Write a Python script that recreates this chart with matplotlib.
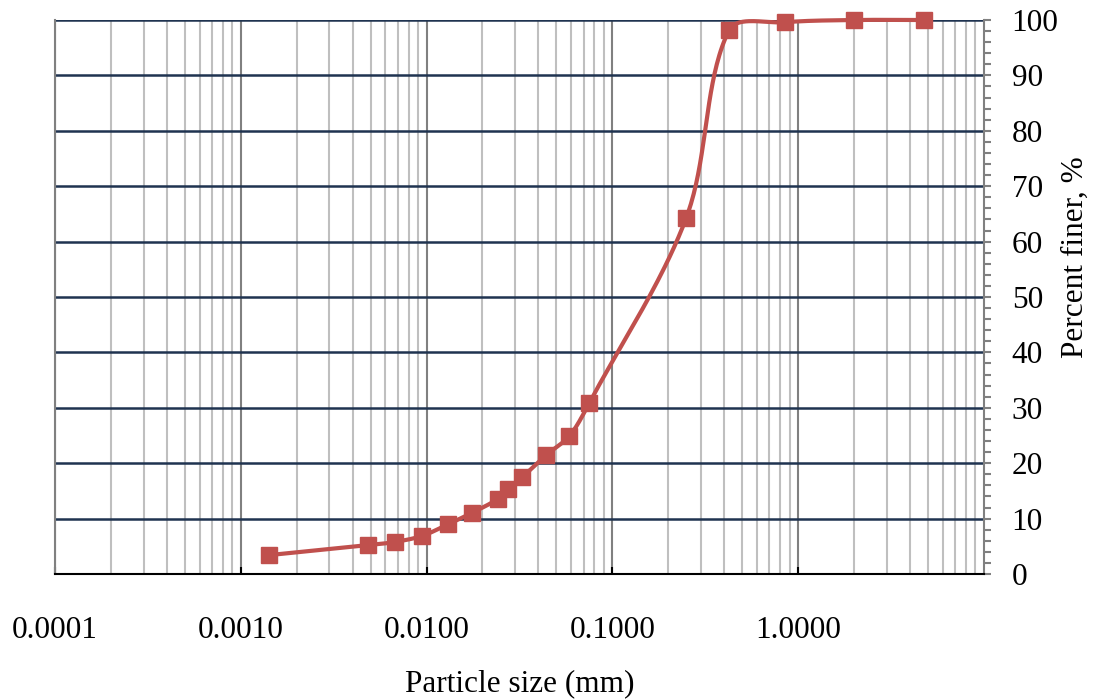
import numpy as np
from matplotlib import pyplot as plt
from matplotlib.ticker import LogLocator, FixedLocator, MultipleLocator, FuncFormatter, NullFormatter

# Sieve / hydrometer results
size_mm = [0.00141, 0.00482, 0.0068, 0.0095, 0.0131, 0.01746, 0.0241, 0.0276,
           0.0328, 0.0442, 0.0587, 0.0752, 0.250, 0.4256, 0.851, 2.0, 4.75]
pct_finer = [3.4, 5.2, 5.8, 6.9, 9.0, 11.0, 13.5, 15.3,
             17.5, 21.5, 24.9, 30.9, 64.3, 98.2, 99.6, 100.0, 100.0]

x_ticks = [0.0001, 0.001, 0.01, 0.1, 1.0]
y_ticks = list(range(0, 101, 10))


def smooth(xs, ys, sx=186.0, sy=5.54, n=40):
    # spreadsheet-style smoothed line: cubic Bezier pieces whose tangents are
    # weighted by the chord lengths on screen (sx px per decade, sy px per unit)
    p = np.column_stack([np.log10(xs) * sx, np.array(ys) * sy])
    d = np.hypot(*np.diff(p, axis=0).T)
    tan = np.zeros_like(p)
    for i in range(1, len(p) - 1):
        tan[i] = (p[i + 1] - p[i - 1]) / (d[i - 1] + d[i])
    tan[0] = (p[1] - p[0]) / d[0]
    tan[-1] = (p[-1] - p[-2]) / d[-1]
    t = np.linspace(0, 1, n)[:, None]
    out = []
    for i in range(len(p) - 1):
        c1 = p[i] + tan[i] * d[i] / 3
        c2 = p[i + 1] - tan[i + 1] * d[i] / 3
        seg = ((1 - t)**3 * p[i] + 3 * (1 - t)**2 * t * c1
               + 3 * (1 - t) * t**2 * c2 + t**3 * p[i + 1])
        out.append(seg)
    out = np.vstack(out)
    return 10 ** (out[:, 0] / sx), out[:, 1] / sy


plt.rcParams['font.family'] = ['Liberation Serif', 'DejaVu Serif']

fig = plt.figure(figsize=(11.01, 7.0), dpi=100)
ax = fig.add_axes([0.04995, 0.18, 0.8437, 0.7914])

ax.set_xscale('log')
ax.set_xlim(1e-4, 10)
ax.set_ylim(0, 100)

sx, sy = smooth(size_mm, pct_finer)
red = '#c0504d'
ax.plot(sx, sy, color=red, lw=3, zorder=3, clip_on=False)
ax.plot(size_mm, pct_finer, ls='none', marker='s', ms=11, color=red, zorder=4, clip_on=False)

# x axis: decade ticks, minor grid
ax.xaxis.set_major_locator(FixedLocator(x_ticks))
ax.xaxis.set_minor_locator(LogLocator(base=10, subs=np.arange(2, 10)))
ax.xaxis.set_major_formatter(FuncFormatter(lambda v, p: '%.4f' % v))
ax.xaxis.set_minor_formatter(NullFormatter())
ax.tick_params(axis='x', which='major', direction='in', length=5, width=1.5,
               color='black', labelsize=22.5, pad=30)
ax.tick_params(axis='x', which='minor', length=0)
ax.grid(True, axis='x', which='major', color='#808080', lw=1.5)
ax.grid(True, axis='x', which='minor', color='#bfbfbf', lw=1.5)

# y axis on the right
ax.yaxis.tick_right()
ax.yaxis.set_label_position('right')
ax.yaxis.set_major_locator(FixedLocator(y_ticks))
ax.yaxis.set_minor_locator(MultipleLocator(2))
ax.tick_params(axis='y', which='both', direction='out', length=5, width=1.5,
               color='#808080', labelsize=22.5, pad=15)
ax.grid(True, axis='y', which='major', color='#1f3350', lw=1.8)
ax.set_axisbelow(True)

for lbl in ax.get_yticklabels():
    lbl.set_horizontalalignment('left')

ax.spines['top'].set_visible(False)
ax.spines['left'].set_color('#808080')
ax.spines['left'].set_linewidth(1.5)
ax.spines['right'].set_color('#808080')
ax.spines['right'].set_linewidth(1.5)
ax.spines['bottom'].set_color('black')
ax.spines['bottom'].set_linewidth(1.5)

ax.set_xlabel('Particle size (mm)', fontsize=22.5, labelpad=18)
ax.set_ylabel('Percent finer, %', fontsize=22.5, va='center')
ax.yaxis.set_label_coords(1.098, 0.572)

fig.savefig('out.png', dpi=100)
